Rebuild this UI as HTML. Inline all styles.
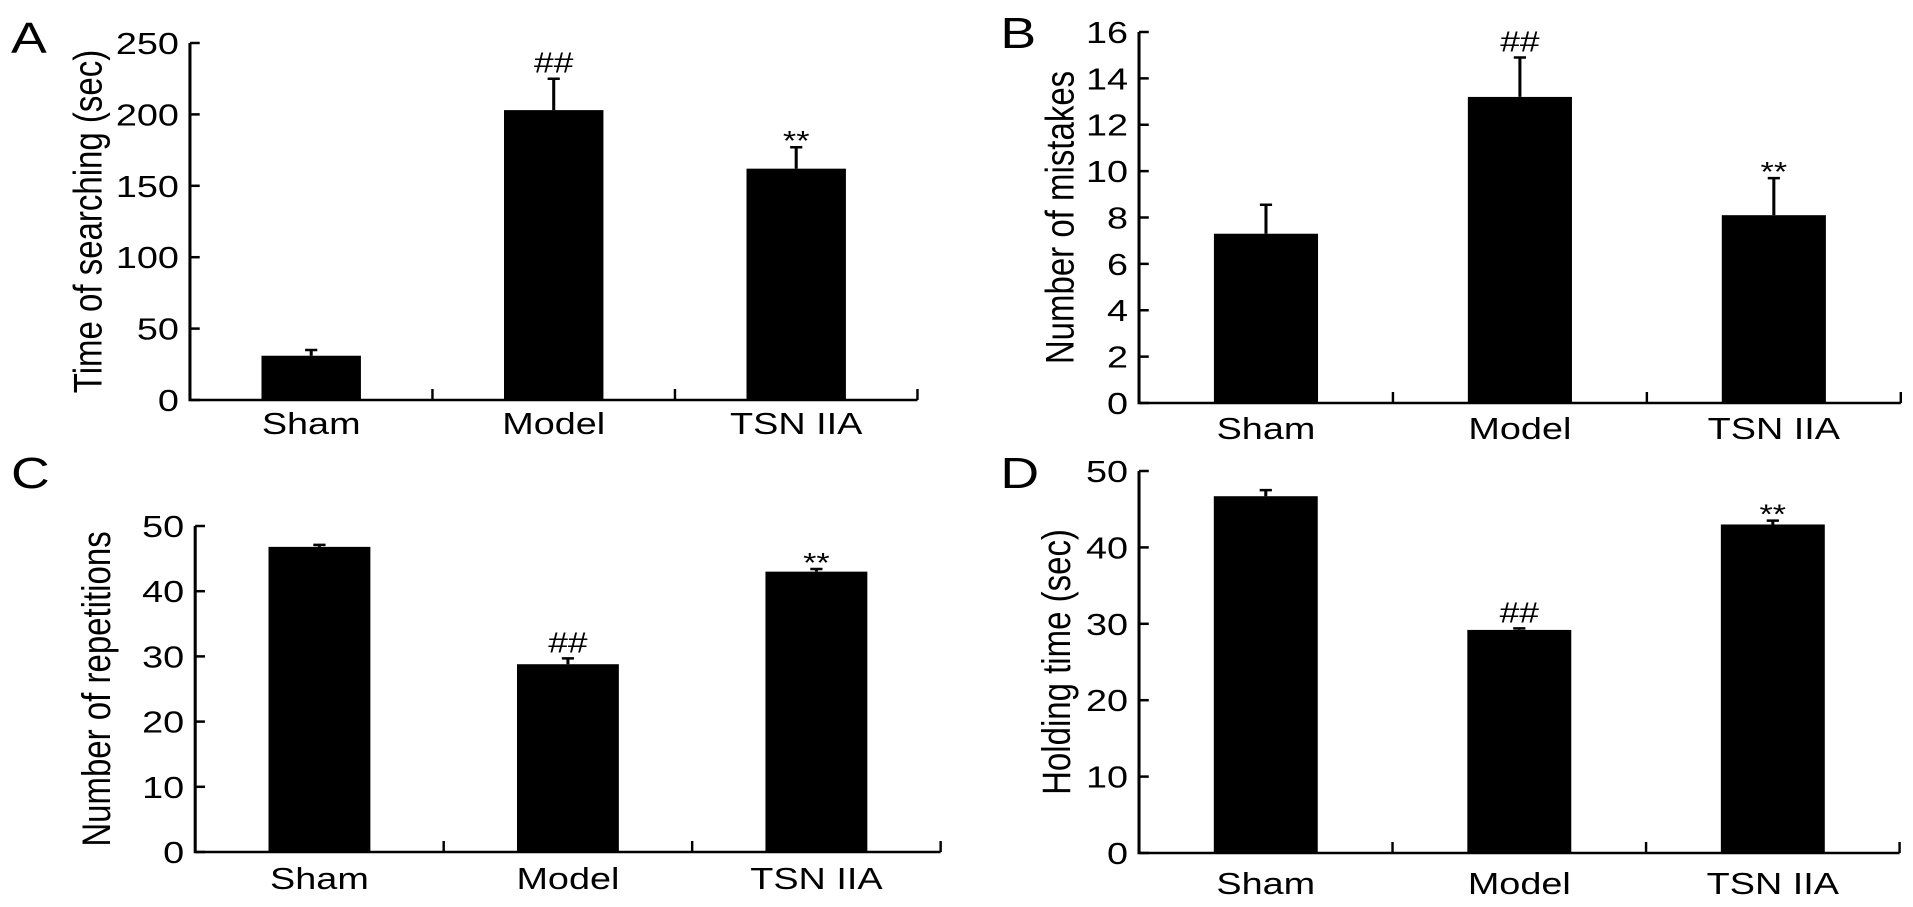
<!DOCTYPE html>
<html><head><meta charset="utf-8"><style>
html,body{margin:0;padding:0;background:#fff;}
svg{display:block;}
text{font-family:"Liberation Sans",Arial,sans-serif;fill:#000;}
</style></head><body>
<svg id="fig" width="1913" height="907" viewBox="0 0 1568 907" preserveAspectRatio="none" xmlns="http://www.w3.org/2000/svg"></svg>
<script>
const categories = ["Sham", "Model", "TSN IIA"];
const valuesA = [31, 203, 162];
const errorsA = [35, 225, 177];
const marksA = ["", "##", "**"];
const ticksA = [0, 50, 100, 150, 200, 250];
const valuesB = [7.3, 13.2, 8.1];
const errorsB = [8.55, 14.9, 9.7];
const marksB = ["", "##", "**"];
const ticksB = [0, 2, 4, 6, 8, 10, 12, 14, 16];
const valuesC = [46.8, 28.8, 43.0];
const errorsC = [47.1, 29.7, 43.4];
const marksC = ["", "##", "**"];
const ticksC = [0, 10, 20, 30, 40, 50];
const valuesD = [46.7, 29.2, 43.0];
const errorsD = [47.5, 29.4, 43.5];
const marksD = ["", "##", "**"];
const ticksD = [0, 10, 20, 30, 40, 50];

const NS = "http://www.w3.org/2000/svg";
const svg = document.getElementById("fig");
function mk(tag, attrs, parent, txt) {
  const e = document.createElementNS(NS, tag);
  for (const k in attrs) e.setAttribute(k, attrs[k]);
  if (txt !== undefined) e.textContent = txt;
  (parent || svg).appendChild(e);
  return e;
}

function panel(cfg) {
  const g = mk("g", {});
  
  
  const maxV = cfg.ticks[cfg.ticks.length - 1];
  const y = v => cfg.y0 - (v / maxV) * (cfg.y0 - cfg.yTop);
  const band = (cfg.x1 - cfg.x0) / categories.length;
  const xc = i => cfg.x0 + band * (i + 0.5);
  const bw = band * 0.41;

  const L = mk("text", {x: cfg.lx, y: cfg.ly, "font-size": 44}, g, cfg.letter);
  
  

  categories.forEach((c, i) => {
    const r = mk("rect", {x: xc(i) - bw / 2, y: y(cfg.values[i]), width: bw, height: cfg.y0 - y(cfg.values[i]), fill: "#000"}, g);
    
    
    const eb = mk("path", {d: `M${xc(i)},${y(cfg.values[i])}V${y(cfg.errors[i])}M${xc(i) - 5},${y(cfg.errors[i])}H${xc(i) + 5}`, stroke: "#000", "stroke-width": 2.5, fill: "none"}, g);
    
    
    if (cfg.marks[i]) {
      const isHash = cfg.marks[i] === "##";
      const t = mk("text", {x: xc(i), y: y(cfg.errors[i]) + (isHash ? -6 : 3), "font-size": isHash ? 29 : 28, "text-anchor": "middle"}, g, cfg.marks[i]);
      
      
    }
    const cl = mk("text", {x: xc(i), y: cfg.catY, "font-size": 31, "text-anchor": "middle"}, g, c);
    
    
  });

  const ax = mk("path", {d: `M${cfg.x0},${y(maxV)}V${cfg.y0}H${cfg.x1}`, stroke: "#000", "stroke-width": 2.5, fill: "none"}, g);
  
  
  for (let i = 1; i <= categories.length; i++) {
    const xs = cfg.x0 + band * i;
    const tk = mk("line", {x1: xs, x2: xs, y1: cfg.y0, y2: cfg.y0 - 11, stroke: "#000", "stroke-width": 2}, g);
    
    
  }
  cfg.ticks.forEach(v => {
    const tk = mk("line", {x1: cfg.x0, x2: cfg.x0 + 8, y1: y(v), y2: y(v), stroke: "#000", "stroke-width": 2.5}, g);
    
    
    const tl = mk("text", {x: cfg.x0 - 9, y: y(v) + 11, "font-size": 31, "text-anchor": "end"}, g, String(v));
    
    
  });
  const yt = mk("text", {x: 0, y: 0, "font-size": 33, "text-anchor": "middle", transform: `translate(${cfg.tx},${(cfg.y0 + y(maxV)) / 2}) rotate(-90)`}, g, cfg.title);
  
  
}

panel({letter: "A", lx: 9, ly: 53, x0: 155.7, x1: 752, y0: 400, yTop: 43, catY: 434, tx: 83, ticks: ticksA, values: valuesA, errors: errorsA, marks: marksA, title: "Time of searching (sec)"});
panel({letter: "B", lx: 820, ly: 48, x0: 933.6, x1: 1558, y0: 403, yTop: 32, catY: 439, tx: 880, ticks: ticksB, values: valuesB, errors: errorsB, marks: marksB, title: "Number of mistakes"});
panel({letter: "C", lx: 9, ly: 488, x0: 160, x1: 771, y0: 852, yTop: 526, catY: 889, tx: 90, ticks: ticksC, values: valuesC, errors: errorsC, marks: marksC, title: "Number of repetitions"});
panel({letter: "D", lx: 820, ly: 488, x0: 933.6, x1: 1557, y0: 853, yTop: 471, catY: 894, tx: 877, ticks: ticksD, values: valuesD, errors: errorsD, marks: marksD, title: "Holding time (sec)"});
</script>
</body></html>
